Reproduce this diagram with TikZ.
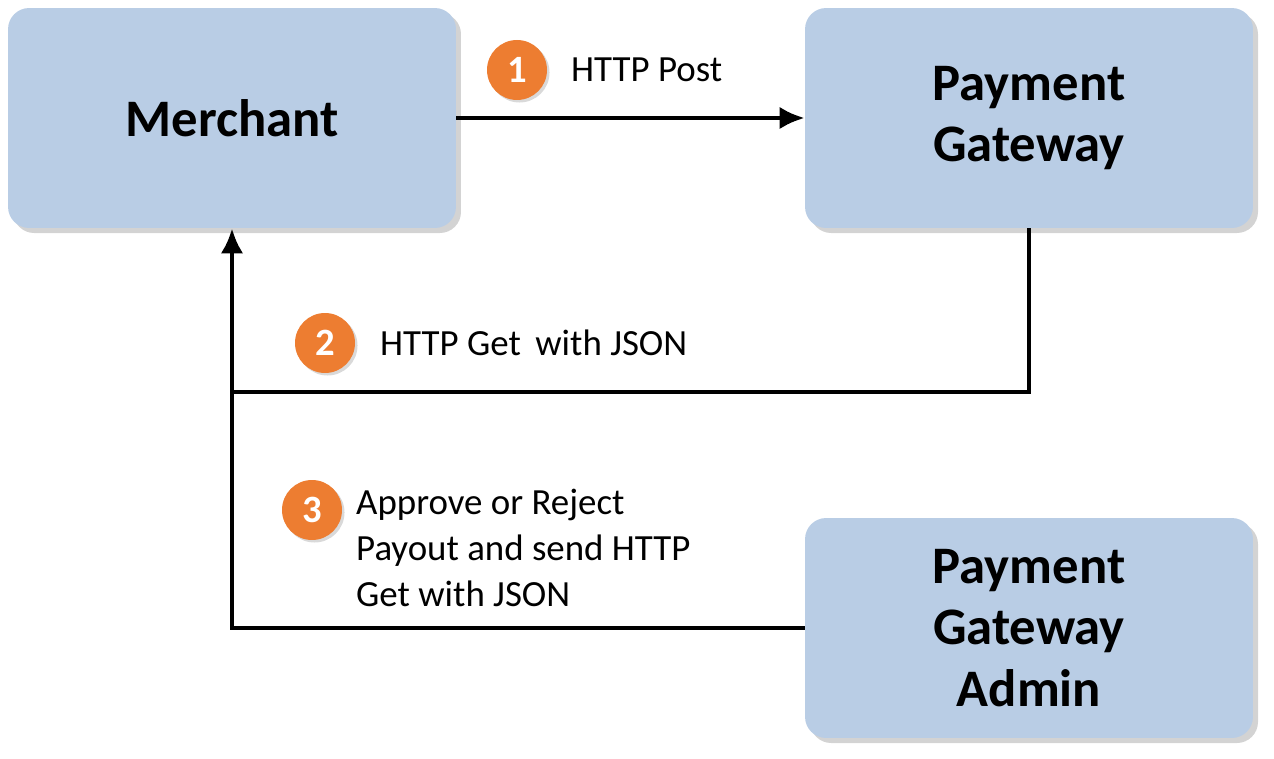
\documentclass[tikz,border=0pt]{standalone}
\usepackage{fontspec}
\setmainfont{Carlito}
\usetikzlibrary{positioning,shadows,arrows.meta}
\definecolor{boxblue}{HTML}{B9CDE5}
\definecolor{steporange}{HTML}{ED7D31}
\tikzset{%
  box/.style = {rectangle,rounded corners=12pt,fill=boxblue,
        minimum width=8.96cm,minimum height=4.4cm,align=center,
        font=\fontsize{30}{35}\selectfont\bfseries,
        drop shadow={shadow xshift=0.6ex,shadow yshift=-0.6ex,opacity=0.35}},
  badge/.style = {circle,fill=steporange,text=white,minimum size=1.2cm,
        inner sep=0pt,font=\fontsize{22}{26}\selectfont\bfseries,
        drop shadow={shadow xshift=0.3ex,shadow yshift=-0.3ex,opacity=0.3}},
  lbl/.style = {anchor=west,align=left,font=\fontsize{21}{26}\selectfont},
  flow/.style = {-{Latex[length=0.5cm,width=0.45cm]},line width=2.6pt}
}
\begin{document}
\begin{tikzpicture}[x=0.02cm,y=-0.02cm]
   \useasboundingbox (0,0) rectangle (1274,759);
   \node[box] (merchant) at (232,118) {Merchant};
   \node[box] (gateway) at (1029,118) {Payment\\Gateway};
   \node[box] (admin) at (1029,628) {Payment\\Gateway\\Admin};

   \node[badge] (s1) at (517,70) {1};
   \node[lbl] (l1) at (565,70) {HTTP Post};
   \node[badge] (s2) at (325,343) {2};
   \node[lbl] (l2) at (374,343) {HTTP Get\, with JSON};
   \node[badge] (s3) at (312,510) {3};
   \node[lbl] (l3) at (350,548) {Approve or Reject\\Payout and send HTTP\\Get with JSON};

   \coordinate (join) at (232,392);
   \draw[flow] (merchant) -- (gateway);
   \draw[flow] (gateway.south) |- (join) -- (merchant.south);
   \draw[line width=2.6pt] (admin.west) -| (join);
\end{tikzpicture}
\end{document}
